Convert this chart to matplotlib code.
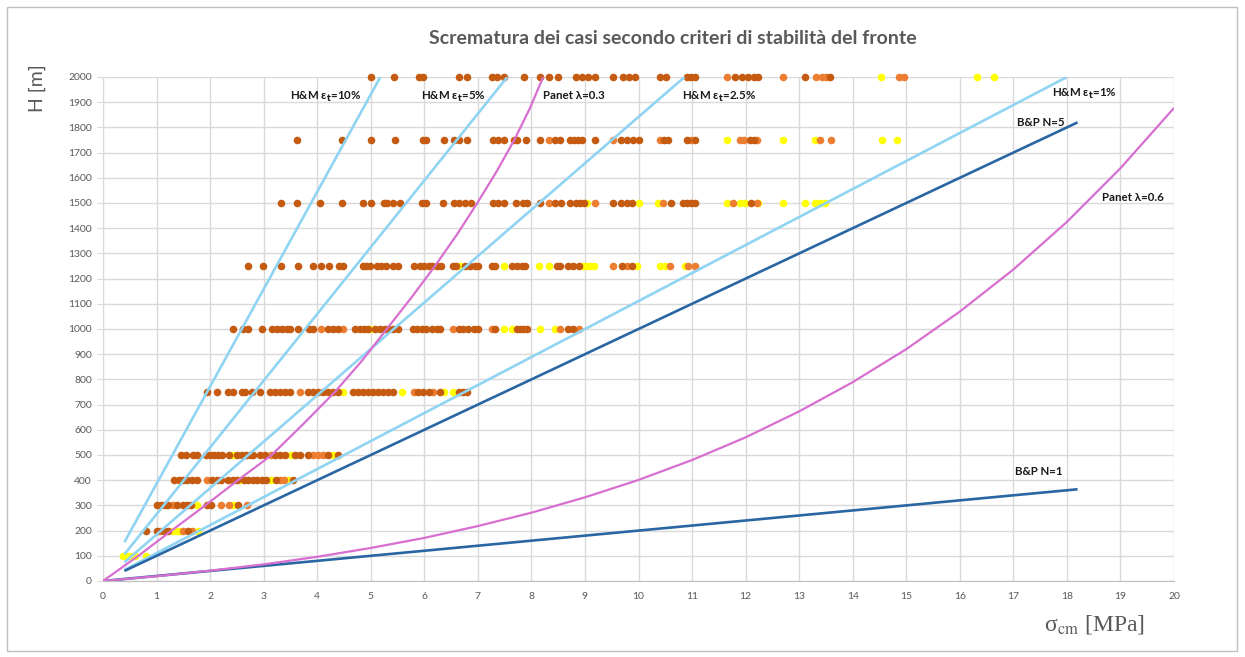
import matplotlib
matplotlib.use("Agg")
import matplotlib.pyplot as plt
from matplotlib.patches import Rectangle

# ---------------------------------------------------------------- data
# Analysed cases: sigma_cm [MPa] for each overburden H [m], split by outcome class
dark_2000 = [5.0, 5.44, 5.90, 5.97, 6.65, 6.79, 7.26, 7.35, 7.48, 7.87, 8.16, 8.32, 8.50,
             8.83, 8.95, 9.06, 9.18, 9.52, 9.71, 9.83, 9.94, 10.40, 10.52, 10.90, 10.98,
             11.05, 11.80, 11.93, 12.05, 12.16, 12.24, 13.10, 13.58]
light_2000 = [11.65, 12.70, 13.31, 13.43, 13.51, 14.87, 14.96]
yellow_2000 = [14.52, 16.32, 16.63]

dark_1750 = [3.63, 4.46, 5.0, 5.46, 5.97, 6.03, 6.36, 6.55, 6.65, 6.80, 7.28, 7.38, 7.49,
             7.67, 7.73, 7.90, 8.16, 8.45, 8.54, 8.72, 8.79, 8.87, 8.95, 9.18, 9.67, 9.79,
             9.90, 10.0, 10.48, 10.56, 10.90, 11.05, 12.09, 12.16]
light_1750 = [8.32, 9.52, 10.40, 10.98, 11.90, 11.97, 12.22, 13.39, 13.60]
yellow_1750 = [11.65, 12.70, 13.30, 14.54, 14.82]

dark_1500 = [3.32, 3.63, 4.06, 4.46, 4.86, 5.0, 5.24, 5.30, 5.42, 5.55, 5.96, 6.03, 6.34,
             6.56, 6.65, 6.76, 6.88, 7.28, 7.38, 7.48, 7.72, 7.84, 7.91, 8.16, 8.45, 8.56,
             8.72, 8.83, 8.91, 8.98, 9.53, 9.67, 9.79, 9.87, 10.60, 10.83, 10.90, 10.98,
             11.05, 12.11]
light_1500 = [8.32, 9.18, 10.46, 11.77, 12.21]
yellow_1500 = [9.03, 10.0, 10.37, 11.65, 11.90, 11.99, 12.24, 12.70, 13.11, 13.30, 13.39, 13.48]

dark_1250 = [2.71, 2.98, 3.32, 3.64, 3.93, 4.07, 4.22, 4.41, 4.49, 4.86, 4.92, 4.99, 5.11,
             5.20, 5.28, 5.42, 5.51, 5.81, 5.92, 5.99, 6.08, 6.15, 6.23, 6.31, 6.54, 6.60,
             6.76, 6.85, 6.95, 7.01, 7.26, 7.32, 7.63, 7.73, 7.82, 7.88, 8.47, 8.53, 8.69,
             8.78, 8.88, 9.69, 9.87]
light_1250 = [9.53, 9.78, 10.59, 10.93, 11.06]
yellow_1250 = [6.67, 7.48, 8.15, 8.32, 8.97, 9.03, 9.09, 9.17, 9.97, 10.40, 10.49, 10.87]

dark_1000 = [2.42, 2.61, 2.71, 2.96, 3.15, 3.24, 3.34, 3.43, 3.49, 3.65, 3.85, 3.93, 4.21,
             4.30, 4.39, 4.71, 4.80, 4.87, 4.94, 5.08, 5.17, 5.27, 5.33, 5.42, 5.51, 5.78,
             5.86, 5.95, 6.04, 6.14, 6.23, 6.29, 6.64, 6.73, 6.82, 6.92, 7.01, 7.32, 7.73,
             7.79, 7.85, 7.91, 8.69, 8.78]
light_1000 = [4.07, 4.48, 6.54, 7.26, 8.53, 8.88]
yellow_1000 = [4.99, 7.48, 7.63, 8.16, 8.44]

dark_750 = [1.95, 2.12, 2.34, 2.43, 2.59, 2.65, 2.78, 2.93, 3.12, 3.21, 3.31, 3.40, 3.49,
            3.83, 3.93, 4.02, 4.11, 4.21, 4.30, 4.39, 4.67, 4.77, 4.86, 4.95, 5.05, 5.14,
            5.23, 5.33, 5.42, 5.89, 5.98, 6.08, 6.29, 6.64, 6.73, 6.79]
light_750 = [3.67, 5.80, 6.17]
yellow_750 = [4.49, 5.58, 6.36, 6.54]

dark_500 = [1.45, 1.55, 1.69, 1.76, 1.92, 2.00, 2.07, 2.15, 2.22, 2.36, 2.51, 2.59, 2.67,
            2.75, 2.81, 2.93, 3.03, 3.21, 3.31, 3.40, 3.59, 3.68, 3.83, 4.21, 4.39]
light_500 = [3.13, 3.93, 4.02, 4.11]
yellow_500 = [2.42, 3.52, 4.30]

dark_400 = [1.33, 1.41, 1.49, 1.57, 1.66, 1.75, 2.03, 2.12, 2.20, 2.34, 2.42, 2.50, 2.63,
            2.71, 2.80, 2.87, 2.96, 3.04, 3.23, 3.54]
light_400 = [1.94, 3.31, 3.38]
yellow_400 = [2.56, 3.13, 3.46]

dark_300 = [1.00, 1.08, 1.16, 1.22, 1.38, 1.49, 1.56, 1.64, 1.94, 2.01, 2.53]
light_300 = [1.30, 2.20, 2.36, 2.68]
yellow_300 = [1.75, 2.43]

dark_200 = [0.80, 1.00, 1.14, 1.22, 1.59]
light_200 = [1.06, 1.50, 1.67]
yellow_200 = [1.31, 1.38, 1.44, 1.77]

dark_100 = []
light_100 = []
yellow_100 = [0.38, 0.47, 0.54, 0.60, 0.80]

# Stability criteria curves (sigma_cm [MPa], H [m])
hm10_sigma, hm10_H = [0.4, 5.18], [154, 2000]
hm5_sigma, hm5_H = [0.4, 7.55], [106, 2000]
hm25_sigma, hm25_H = [0.4, 10.86], [74, 2000]
hm1_sigma, hm1_H = [0.4, 18.0], [44, 2000]
bp5_sigma, bp5_H = [0.4, 18.2], [40, 1820]
bp1_sigma, bp1_H = [0.0, 18.2], [0, 364]
panet03_sigma = [0.0, 0.66, 1.28, 1.91, 2.52, 3.15, 3.75, 4.33, 4.84, 5.30, 5.76,
                 6.20, 6.61, 6.99, 7.35, 7.68, 7.97, 8.22]
panet03_H = [0, 100, 200, 300, 400, 500, 625, 750, 875, 1000, 1125,
             1250, 1375, 1500, 1625, 1750, 1875, 2000]
panet06_sigma = [0, 1, 2, 3, 4, 5, 6, 7, 8, 9, 10, 11, 12, 13, 14, 15, 16, 17, 18, 19, 20]
panet06_H = [0, 19, 41, 66, 96, 131, 171, 218, 271, 332, 401, 480, 570, 673, 789,
             920, 1069, 1236, 1425, 1638, 1877]

x_ticks = list(range(0, 21))
y_ticks = list(range(0, 2001, 100))

# ---------------------------------------------------------------- style
C_DARK = "#C55A11"
C_LIGHT = "#ED7D31"
C_YELLOW = "#FFFF00"
C_HM = "#8FD4F2"
C_BP = "#2A66A3"
C_PANET = "#D86FD0"
C_TEXT = "#595959"

W, H = 1245, 657
fig = plt.figure(figsize=(W / 100, H / 100), dpi=100)
ax = fig.add_axes([103 / W, 1 - 581 / H, (1174 - 103) / W, (581 - 77) / H])

# outer frame of the chart area
fig.patches.append(Rectangle((7 / W, 6 / H), (1237 - 7) / W, (650 - 6) / H,
                             transform=fig.transFigure, fill=False,
                             edgecolor="#BFBFBF", linewidth=1.0))

levels = [2000, 1750, 1500, 1250, 1000, 750, 500, 400, 300, 200, 100]
groups = {
    2000: (dark_2000, light_2000, yellow_2000),
    1750: (dark_1750, light_1750, yellow_1750),
    1500: (dark_1500, light_1500, yellow_1500),
    1250: (dark_1250, light_1250, yellow_1250),
    1000: (dark_1000, light_1000, yellow_1000),
    750: (dark_750, light_750, yellow_750),
    500: (dark_500, light_500, yellow_500),
    400: (dark_400, light_400, yellow_400),
    300: (dark_300, light_300, yellow_300),
    200: (dark_200, light_200, yellow_200),
    100: (dark_100, light_100, yellow_100),
}

ms = 30
for lev in levels:
    d, l, y = groups[lev]
    ax.scatter(y, [lev] * len(y), s=ms, color=C_YELLOW, lw=0, zorder=3, clip_on=False)
    ax.scatter(l, [lev] * len(l), s=ms, color=C_LIGHT, lw=0, zorder=3.1, clip_on=False)
    ax.scatter(d, [lev] * len(d), s=ms, color=C_DARK, lw=0, zorder=3.2, clip_on=False)

lw_line = 1.9
for xs, ys in [(hm10_sigma, hm10_H), (hm5_sigma, hm5_H), (hm25_sigma, hm25_H), (hm1_sigma, hm1_H)]:
    ax.plot(xs, ys, color=C_HM, lw=lw_line, zorder=4, solid_capstyle="butt")
for xs, ys in [(bp5_sigma, bp5_H), (bp1_sigma, bp1_H)]:
    ax.plot(xs, ys, color=C_BP, lw=lw_line, zorder=4, solid_capstyle="butt")
for xs, ys in [(panet03_sigma, panet03_H), (panet06_sigma, panet06_H)]:
    ax.plot(xs, ys, color=C_PANET, lw=1.6, zorder=4, solid_capstyle="butt",
            solid_joinstyle="round")

# curve labels
lab_kw = dict(fontsize=8.3, fontweight="bold", color="#1a1a1a", family=["Lato", "DejaVu Sans"],
              va="center", ha="left", zorder=5, math_fontfamily="dejavusans")
ax.text(3.49, 1920, r"H&M ε$_\mathbf{t}$=10%", **lab_kw)
ax.text(5.94, 1920, r"H&M ε$_\mathbf{t}$=5%", **lab_kw)
ax.text(8.22, 1925, "Panet λ=0.3", **lab_kw)
ax.text(10.81, 1920, r"H&M ε$_\mathbf{t}$=2.5%", **lab_kw)
ax.text(17.73, 1932, r"H&M ε$_\mathbf{t}$=1%", **lab_kw)
ax.text(17.06, 1821, "B&P N=5", **lab_kw)
ax.text(18.65, 1523, "Panet λ=0.6", **lab_kw)
ax.text(17.03, 433, "B&P N=1", **lab_kw)

ax.set_xlim(0, 20)
ax.set_ylim(0, 2000)
ax.set_xticks(x_ticks)
ax.set_yticks(y_ticks)
ax.grid(True, color="#D9D9D9", lw=1.0)
ax.set_axisbelow(True)
for s in ["top", "right"]:
    ax.spines[s].set_visible(False)
ax.spines["left"].set_color("#D9D9D9")
ax.spines["bottom"].set_color("#BFBFBF")
ax.tick_params(axis="x", length=0, pad=8, labelsize=7.5, labelcolor=C_TEXT)
ax.tick_params(axis="y", length=4, color="#D9D9D9", pad=4, labelsize=7.5, labelcolor=C_TEXT)
for lab in ax.get_xticklabels() + ax.get_yticklabels():
    lab.set_family(["Lato", "DejaVu Sans"])

fig.text(673 / W, 1 - 38 / H, "Scrematura dei casi secondo criteri di stabilità del fronte",
         ha="center", va="center", fontsize=14, fontweight="bold", color=C_TEXT,
         family=["Lato", "DejaVu Sans"])
fig.text(37 / W, 1 - 88 / H, "H [m]", rotation=90, ha="center", va="center",
         fontsize=14, color=C_TEXT, family=["Lato", "DejaVu Sans"])
fig.text(1145 / W, 1 - 625 / H, r"σ$_{\mathrm{cm}}$ [MPa]", ha="right", va="center",
         fontsize=17, color=C_TEXT, family=["Liberation Serif"], math_fontfamily="stix")

fig.savefig("out.png", dpi=100, facecolor="white")
